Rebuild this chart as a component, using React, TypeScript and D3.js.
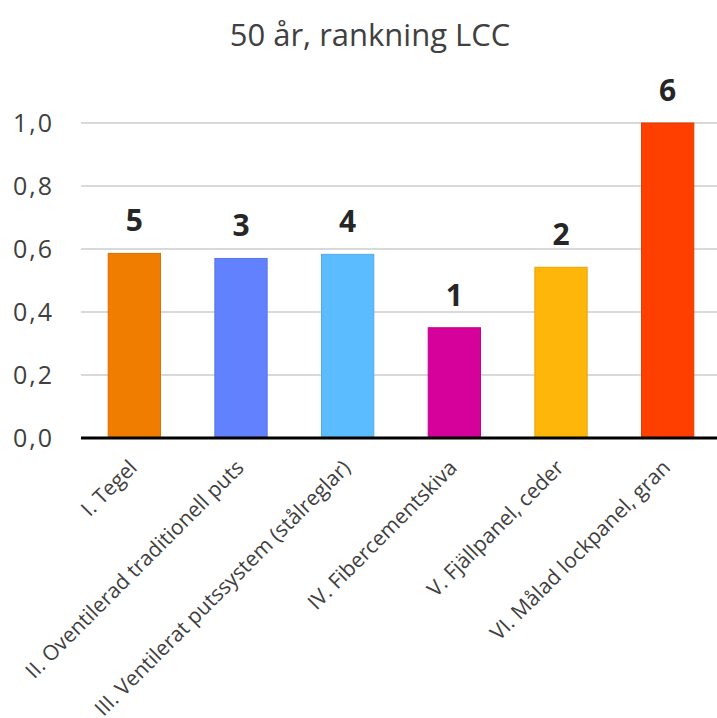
import React from "react";
import * as d3 from "d3";

const categories = [
  "I. Tegel",
  "II. Oventilerad traditionell puts",
  "III. Ventilerat putssystem (stålreglar)",
  "IV. Fibercementskiva",
  "V. Fjällpanel, ceder",
  "VI. Målad lockpanel, gran",
];
const values = [0.586, 0.57, 0.583, 0.35, 0.542, 1.0];
const ranks = ["5", "3", "4", "1", "2", "6"];
const colors = ["#F07C00", "#6181FF", "#5BBDFF", "#D6009A", "#FFB60A", "#FF3F00"];
const yTicks = [0, 0.2, 0.4, 0.6, 0.8, 1.0];
const title = "50 år, rankning LCC";

const W = 717;
const H = 718;
const FONT = "'Open Sans', 'Noto Sans', sans-serif";

export default function App() {
  const x = d3
    .scaleBand<string>()
    .domain(categories)
    .range([81, 721])
    .paddingInner(0.51)
    .paddingOuter(0.255);
  const y = d3.scaleLinear().domain([0, 1]).range([438, 123]);
  const fmt = (v: number) => d3.format(".1f")(v).replace(".", ",");

  return (
    <svg
      width={W}
      height={H}
      style={{ position: "absolute", left: 0, top: 0, background: "#fff" }}
    >
      <text
        x={370}
        y={46}
        textAnchor="middle"
        fontFamily={FONT}
        fontSize={31}
        fill="#404040"
      >
        {title}
      </text>

      {yTicks.map((t) => (
        <g key={t}>
          {t > 0 && (
            <line x1={81} x2={W} y1={y(t)} y2={y(t)} stroke="#d9d9d9" strokeWidth={2} />
          )}
          <text
            x={54}
            y={y(t)}
            dy="0.36em"
            textAnchor="end"
            fontFamily={FONT}
            fontSize={25}
            letterSpacing={2}
            fill="#404040"
          >
            {fmt(t)}
          </text>
        </g>
      ))}

      {categories.map((c, i) => (
        <g key={c}>
          <rect
            x={x(c)}
            y={y(values[i])}
            width={x.bandwidth()}
            height={y(0) - y(values[i])}
            fill={colors[i]}
            stroke={d3.color(colors[i])!.darker(0.3).toString()}
            strokeWidth={1}
          />
          <text
            x={(x(c) as number) + x.bandwidth() / 2}
            y={y(values[i]) - 22}
            textAnchor="middle"
            fontFamily={FONT}
            fontWeight="bold"
            fontSize={30}
            fill="#262626"
          >
            {ranks[i]}
          </text>
          <text
            transform={`translate(${(x(c) as number) + x.bandwidth() / 2 + 4},${469}) rotate(-45)`}
            textAnchor="end"
            fontFamily={FONT}
            fontSize={21}
            fill="#404040"
          >
            {c}
          </text>
        </g>
      ))}

      <line x1={81} x2={W} y1={y(0)} y2={y(0)} stroke="#000" strokeWidth={3} />
    </svg>
  );
}
